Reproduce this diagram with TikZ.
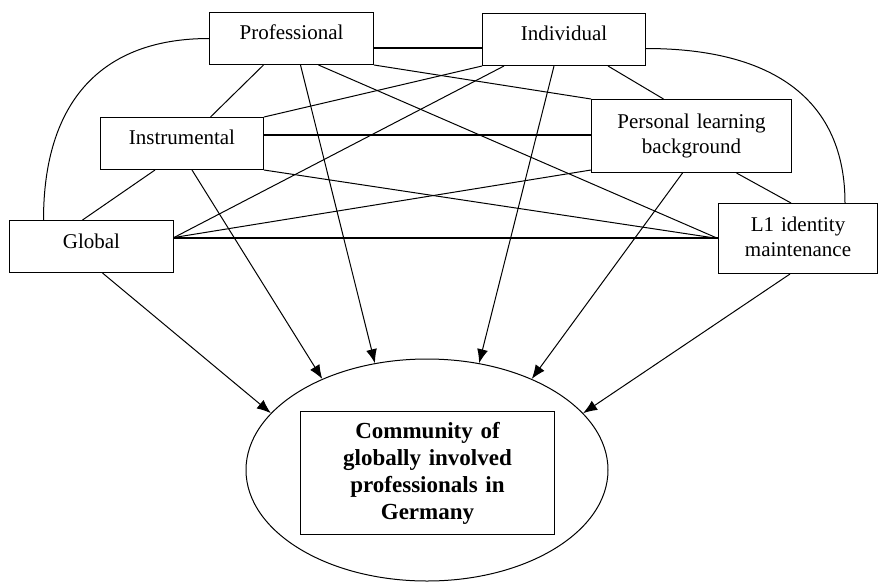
\documentclass[tikz,border=0pt]{standalone}
\usepackage{fontspec}
\setmainfont{Liberation Serif}
\usetikzlibrary{arrows.meta,shapes.geometric}

\begin{document}
\begin{tikzpicture}[x=1pt,y=-1pt]
      \useasboundingbox (0,0) rectangle (878,582);
      \tikzset{B/.style = {draw, line width=1pt, anchor=north west, inner sep=0pt, align=center, font=\fontsize{21}{25}\selectfont}}
      \tikzset{E/.style = {draw, line width=1pt}}
      \tikzset{H/.style = {draw, line width=2pt}}
      \tikzset{A/.style = {draw, line width=1pt, -{Latex[length=14pt,width=11pt]}}}
      % factor boxes
      \node[B,text width=164pt,text height=27pt,text depth=25pt](prof) at (209,12) {Professional};
      \node[B,text width=163pt,text height=27pt,text depth=25pt](indiv) at (482,13) {Individual};
      \node[B,text width=163pt,text height=27pt,text depth=25pt](instr) at (100,117) {Instrumental};
      \node[B,text width=200pt,text height=29pt,text depth=44pt](plb) at (591,99) {Personal learning\\background};
      \node[B,text width=164pt,text height=28pt,text depth=24pt](glob) at (9,220) {Global};
      \node[B,text width=159pt,text height=28pt,text depth=42pt](lone) at (718,203) {L1 identity\\maintenance};
      % community
      \node[ellipse,draw,line width=1pt,minimum width=362pt,minimum height=222pt,inner sep=0pt](comm) at (427,470) {};
      \node[B,font=\fontsize{23}{27}\selectfont\bfseries,text width=254pt,text height=27pt,text depth=96pt](cbox) at (300,411) {Community of\\globally involved\\professionals in\\Germany};
      % links between factors
      \draw[H] ([yshift=-9pt]prof.east) -- ([yshift=-8pt]indiv.west);
      \draw[H] ([yshift=9pt]instr.east) -- ([yshift=9pt]instr.east -| plb.west);
      \draw[H] ([yshift=9pt]glob.east) -- ([yshift=9pt]glob.east -| lone.west);
      \draw[E] ([xshift=-28pt]prof.south) -- ([xshift=28.5pt]instr.north);
      \draw[E] (prof.south east) -- (plb.north west);
      \draw[E] ([xshift=27pt]prof.south) -- (lone.west);
      \draw[E] (indiv.south west) -- (instr.north east);
      \draw[E] ([xshift=-60pt]indiv.south) -- ([yshift=9pt]glob.east);
      \draw[E] ([xshift=44pt]indiv.south) -- ([xshift=-28pt]plb.north);
      \draw[E] (instr.south east) -- (lone.west);
      \draw[E] ([yshift=9pt]glob.east) -- ([yshift=3pt]plb.south west);
      \draw[E] ([xshift=-9pt]glob.north) -- ([xshift=-27pt]instr.south);
      \draw[E] ([xshift=45pt]plb.south) -- ([xshift=-7pt]lone.north);
      \draw[E] (prof.west) .. controls +(-108,0) and +(0,-118) .. ([xshift=-48pt]glob.north);
      \draw[E] ([yshift=-9pt]indiv.east) .. controls +(130,0) and +(0,-101) .. ([xshift=47pt]lone.north);
      % arrows to community
      \draw[A] ([xshift=11pt]glob.south) -- (comm.160);
      \draw[A] ([xshift=10pt]instr.south) -- (comm.139);
      \draw[A] ([xshift=9pt]prof.south) -- (comm.116);
      \draw[A] ([xshift=-10pt]indiv.south) -- (comm.64);
      \draw[A] ([xshift=-9pt]plb.south) -- (comm.41);
      \draw[A] ([xshift=-8pt]lone.south) -- (comm.20);
\end{tikzpicture}
\end{document}
